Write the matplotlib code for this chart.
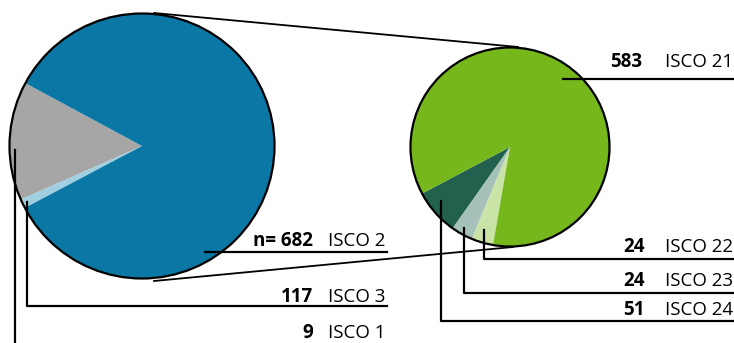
import matplotlib.pyplot as plt
from matplotlib.patches import Circle

plt.rcParams['font.family'] = ['Open Sans', 'DejaVu Sans']

# left pie: ISCO major groups (counterclockwise order from start angle)
left_labels = ["ISCO 3", "ISCO 1", "ISCO 2"]
left_values = [117, 9, 682]
left_colors = ["#a6a6a6", "#9fcfe0", "#0b77a5"]

# right pie: breakdown of ISCO 2
right_labels = ["ISCO 24", "ISCO 23", "ISCO 22", "ISCO 21"]
right_values = [51, 24, 24, 583]
right_colors = ["#23614f", "#a6c1b9", "#c9e4a6", "#76b81c"]

W, H = 734, 343


def py(y):
    # pixel row (from top) -> data y
    return H - y


fig = plt.figure(figsize=(W / 100, H / 100), dpi=100)
ax = fig.add_axes([0, 0, 1, 1])

# left pie
lc, lr = (142, py(146)), 132.5
ax.pie(left_values, colors=left_colors, center=lc, radius=lr,
       startangle=151.7, counterclock=True, wedgeprops=dict(linewidth=0))
ax.add_patch(Circle(lc, lr, fill=False, ec="black", lw=1.6, zorder=3))

# right pie
rc, rr = (510, py(147)), 99.5
ax.pie(right_values, colors=right_colors, center=rc, radius=rr,
       startangle=207.9, counterclock=True, wedgeprops=dict(linewidth=0))
ax.add_patch(Circle(rc, rr, fill=False, ec="black", lw=1.6, zorder=3))

lw = 1.6
# connector lines between the pies
ax.plot([154, 518], [py(13), py(47)], color="black", lw=1.3, zorder=4)
ax.plot([154, 513], [py(281), py(247)], color="black", lw=1.3, zorder=4)

# leader lines (left)
ax.plot([205, 387], [py(252), py(252)], color="black", lw=lw, zorder=4)
ax.plot([27, 27, 387], [py(202), py(306), py(306)], color="black", lw=lw, zorder=4)
ax.plot([15, 15], [py(150), py(343)], color="black", lw=lw, zorder=4)

# leader lines (right)
ax.plot([563, 734], [py(79), py(79)], color="black", lw=lw, zorder=4)
ax.plot([484, 484, 734], [py(230), py(259), py(259)], color="black", lw=lw, zorder=4)
ax.plot([464, 464, 734], [py(228), py(293), py(293)], color="black", lw=lw, zorder=4)
ax.plot([441, 441, 734], [py(201), py(321), py(321)], color="black", lw=lw, zorder=4)

fs = 13.5
# labels: (number text, number right x, label, label right x, baseline)
labels = [
    ("n= 682", 313, "ISCO 2", 385, 246),
    (str(left_values[0]), 313, "ISCO 3", 385, 302),
    (str(left_values[1]), 313, "ISCO 1", 385, 338),
    (str(right_values[3]), 642, "ISCO 21", 733, 67),
    (str(right_values[2]), 645, "ISCO 22", 733, 252),
    (str(right_values[1]), 645, "ISCO 23", 733, 286),
    (str(right_values[0]), 645, "ISCO 24", 733, 315),
]
for num, nx, lab, lx, by in labels:
    ax.text(nx, py(by), num, ha="right", va="baseline", fontsize=fs,
            fontweight="bold")
    ax.text(lx, py(by), lab, ha="right", va="baseline", fontsize=fs)

ax.set_xlim(0, W)
ax.set_ylim(0, H)
ax.set_aspect("equal")
ax.axis("off")

fig.savefig("out.png", dpi=100)
